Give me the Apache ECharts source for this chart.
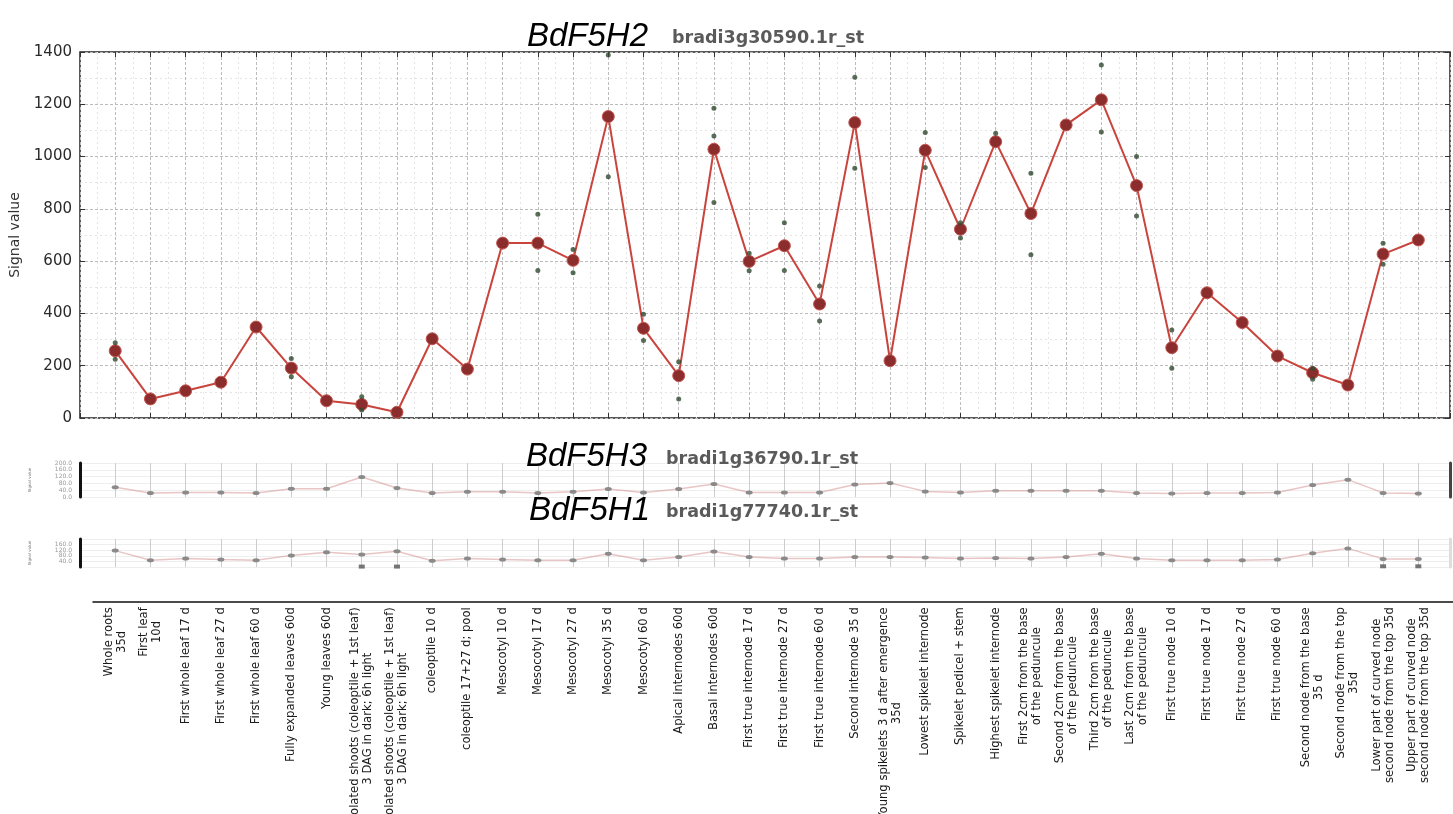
<!DOCTYPE html>
<html>
<head>
<meta charset="utf-8">
<title>BdF5H expression profiles</title>
<script src="https://cdn.jsdelivr.net/npm/echarts@6/dist/echarts.min.js"></script>
<style>
  html, body { margin: 0; padding: 0; background: #ffffff; }
  #chart { width: 1453px; height: 814px; }
</style>
</head>
<body>
<div id="chart"></div>
<script>
// Tissue / developmental stage categories (x axis)
const categories = [
  'Whole roots\n35d',
  'First leaf\n10d',
  'First whole leaf 17 d',
  'First whole leaf 27 d',
  'First whole leaf 60 d',
  'Fully expanded leaves 60d',
  'Young leaves 60d',
  'Etiolated shoots (coleoptile + 1st leaf)\n3 DAG in dark; 6h light',
  'Etiolated shoots (coleoptile + 1st leaf)\n3 DAG in dark; 6h light',
  'coleoptile 10 d',
  'coleoptile 17+27 d; pool',
  'Mesocotyl 10 d',
  'Mesocotyl 17 d',
  'Mesocotyl 27 d',
  'Mesocotyl 35 d',
  'Mesocotyl 60 d',
  'Apical internodes 60d',
  'Basal internodes 60d',
  'First true internode 17 d',
  'First true internode 27 d',
  'First true internode 60 d',
  'Second internode 35 d',
  'Young spikelets 3 d after emergence\n35d',
  'Lowest spikelet internode',
  'Spikelet pedicel + stem',
  'Highest spikelet internode',
  'First 2cm from the base\nof the peduncule',
  'Second 2cm from the base\nof the peduncule',
  'Third 2cm from the base\nof the peduncule',
  'Last 2cm from the base\nof the peduncule',
  'First true node 10 d',
  'First true node 17 d',
  'First true node 27 d',
  'First true node 60 d',
  'Second node from the base\n35 d',
  'Second node from the top\n35d',
  'Lower part of curved node\nsecond node from the top 35d',
  'Upper part of curved node\nsecond node from the top 35d'
];

// BdF5H2 (bradi3g30590.1r_st): mean signal per tissue
const meanF5H2 = [257, 73, 104, 137, 348, 191, 66, 52, 22, 303, 187, 669, 669, 603, 1153, 343, 162, 1028,
  599, 659, 436, 1130, 219, 1024, 722, 1057, 782, 1121, 1217, 889, 269, 479, 365, 237, 173, 126, 627, 681];

// BdF5H2 individual replicates: [tissue index, signal]
const repsF5H2 = [
  [0, 288], [0, 225], [5, 228], [5, 158], [7, 81], [7, 31],
  [12, 779], [12, 564], [13, 645], [13, 556], [14, 1389], [14, 923],
  [15, 397], [15, 296], [16, 215], [16, 73], [17, 1185], [17, 1079], [17, 824],
  [18, 630], [18, 563], [19, 747], [19, 564], [20, 505], [20, 371],
  [21, 1303], [21, 955], [23, 1092], [23, 958], [24, 747], [24, 689],
  [25, 1089], [26, 936], [26, 624], [28, 1350], [28, 1094], [29, 1000], [29, 773],
  [30, 337], [30, 190], [34, 190], [34, 148], [36, 668], [36, 588]
];

// BdF5H3 (bradi1g36790.1r_st): mean signal per tissue
const meanF5H3 = [57, 24, 27, 27, 24, 49, 49, 118, 53, 24, 31, 31, 24, 31, 47, 27, 47, 76,
  27, 27, 27, 73, 82, 33, 27, 37, 37, 37, 37, 24, 20, 24, 24, 27, 71, 102, 24, 20];

// BdF5H1 (bradi1g77740.1r_st): mean signal per tissue
const meanF5H1 = [117, 48, 60, 53, 48, 83, 106, 90, 113, 44, 60, 53, 48, 48, 94, 48, 71, 110,
  71, 60, 60, 71, 71, 67, 60, 64, 60, 71, 94, 60, 48, 48, 48, 53, 99, 133, 58, 58];

// BdF5H1 low replicates: [tissue index, signal]
const repsF5H1 = [[7, 3], [8, 3], [36, 5], [37, 5]];

// Y-axis tick settings
const mainYTicks = { min: 0, max: 1400, step: 200 };
const miniYTicks = { min: 0, max: 200, step: 40 };

const indexed = arr => arr.map((v, i) => [i, v]);
const catIndices = categories.map((_, i) => i);

const chart = echarts.init(document.getElementById('chart'), null, { renderer: 'canvas' });

const FONT = 'DejaVu Sans';
const LABEL_SIZE = 11.6;

// Shared x range for the three stacked panels (one unit per tissue)
const X_MIN = -1, X_MAX = 37.9;
const PLOT_LEFT = 80, PLOT_WIDTH = 1370;
const unitPx = PLOT_WIDTH / (X_MAX - X_MIN);

function miniX(gridIndex) {
  return {
    type: 'value', gridIndex: gridIndex, min: X_MIN, max: X_MAX, interval: 1,
    axisLine: { show: false }, axisTick: { show: false }, axisLabel: { show: false },
    splitLine: { show: true, lineStyle: { color: '#cdcdcd', width: 1 } }
  };
}
function miniYLeft(gridIndex) {
  return {
    type: 'value', gridIndex: gridIndex, position: 'left',
    min: miniYTicks.min, max: miniYTicks.max, interval: miniYTicks.step,
    name: 'Signal value', nameLocation: 'middle', nameGap: 48,
    nameTextStyle: { fontFamily: FONT, fontSize: 4, color: '#777' },
    axisLine: { show: true, onZero: false, lineStyle: { color: '#111', width: 3 } },
    axisTick: { show: false },
    axisLabel: { fontFamily: FONT, fontSize: 6, color: '#999', margin: 8,
                 formatter: v => v.toFixed(1) },
    splitLine: { show: true, lineStyle: { color: '#eeeeee' } }
  };
}
function miniYRight(gridIndex, color) {
  return {
    type: 'value', gridIndex: gridIndex, position: 'right',
    min: miniYTicks.min, max: miniYTicks.max, interval: miniYTicks.step,
    axisLine: { show: true, onZero: false, lineStyle: { color: color, width: 3 } },
    axisTick: { show: false }, axisLabel: { show: false }, splitLine: { show: false }
  };
}

const titleFont = { fontFamily: 'Liberation Sans', fontStyle: 'italic', fontWeight: 'normal', fontSize: 33, color: '#000' };
const probeFont = { fontFamily: FONT, fontWeight: 'bold', fontSize: 17.5, color: '#5a5a5a' };

const option = {
  backgroundColor: '#ffffff',
  animation: false,
  title: [
    { text: 'BdF5H2', left: 522, top: 15, textStyle: titleFont },
    { text: 'bradi3g30590.1r_st', left: 667, top: 24, textStyle: probeFont },
    { text: 'BdF5H3', left: 521, top: 435, textStyle: titleFont },
    { text: 'bradi1g36790.1r_st', left: 661, top: 445, textStyle: probeFont },
    { text: 'BdF5H1', left: 524, top: 489, textStyle: titleFont },
    { text: 'bradi1g77740.1r_st', left: 661, top: 498, textStyle: probeFont }
  ],
  grid: [
    { left: PLOT_LEFT, top: 52, width: PLOT_WIDTH, height: 366, show: true, borderColor: '#222', borderWidth: 1.5, backgroundColor: 'transparent' },
    { left: PLOT_LEFT, top: 463, width: PLOT_WIDTH, height: 34 },
    { left: PLOT_LEFT, top: 539, width: PLOT_WIDTH, height: 28 },
    { left: 93, top: 601, width: 1360, height: 1 }
  ],
  xAxis: [
    {
      type: 'value', gridIndex: 0, position: 'bottom', min: X_MIN, max: X_MAX, interval: 1,
      axisLine: { show: false, onZero: false },
      axisTick: { show: true, inside: true, length: 5, lineStyle: { color: '#333' } },
      axisLabel: { show: false },
      splitLine: { show: true, lineStyle: { color: '#bcbcbc', type: [3, 2], width: 1 } },
      minorTick: { show: false, splitNumber: 2 },
      minorSplitLine: { show: true, lineStyle: { color: '#e4e4e4', type: [2, 3], width: 1 } }
    },
    {
      type: 'value', gridIndex: 0, position: 'top', min: X_MIN, max: X_MAX, interval: 1,
      axisLine: { show: false, onZero: false },
      axisTick: { show: true, inside: true, length: 5, lineStyle: { color: '#333' } },
      axisLabel: { show: false }, splitLine: { show: false }
    },
    miniX(1),
    miniX(2),
    {
      // Tissue names, on the same scale as the panels above
      type: 'value', gridIndex: 3, position: 'bottom',
      min: X_MIN + (93 - PLOT_LEFT) / unitPx, max: X_MIN + (1453 - PLOT_LEFT) / unitPx,
      axisLine: { show: true, onZero: false, lineStyle: { color: '#111', width: 1.5 } },
      axisTick: { show: false },
      splitLine: { show: false },
      axisLabel: {
        show: true, rotate: 90, margin: 6, hideOverlap: false,
        customValues: catIndices,
        fontFamily: FONT, fontSize: LABEL_SIZE, color: '#1a1a1a',
        formatter: v => {
          const name = categories[Math.round(v)];
          if (name === undefined) return '';
          return name.split('\n').map(l => '{c|' + l + '}').join('\n');
        },
        rich: { c: { align: 'center', fontFamily: FONT, fontSize: LABEL_SIZE, lineHeight: 13, color: '#1a1a1a' } }
      }
    }
  ],
  yAxis: [
    {
      type: 'value', gridIndex: 0, position: 'left',
      min: mainYTicks.min, max: mainYTicks.max, interval: mainYTicks.step,
      name: 'Signal value', nameLocation: 'middle', nameGap: 58,
      nameTextStyle: { fontFamily: FONT, fontSize: 14, color: '#333' },
      axisLine: { show: false, onZero: false },
      axisTick: { show: true, inside: true, length: 5, lineStyle: { color: '#333' } },
      axisLabel: { fontFamily: FONT, fontSize: 15, color: '#2a2a2a', margin: 8, formatter: v => String(v) },
      splitLine: { show: true, lineStyle: { color: '#bcbcbc', type: [3, 2], width: 1 } },
      minorTick: { show: false, splitNumber: 2 },
      minorSplitLine: { show: true, lineStyle: { color: '#e4e4e4', type: [2, 3], width: 1 } }
    },
    {
      type: 'value', gridIndex: 0, position: 'right',
      min: mainYTicks.min, max: mainYTicks.max, interval: mainYTicks.step,
      axisLine: { show: false, onZero: false },
      axisTick: { show: true, inside: true, length: 5, lineStyle: { color: '#333' } },
      axisLabel: { show: false }, splitLine: { show: false }
    },
    miniYLeft(1),
    miniYRight(1, '#444'),
    miniYLeft(2),
    miniYRight(2, '#dddddd'),
    { type: 'value', gridIndex: 3, show: false, min: 0, max: 1 }
  ],
  series: [
    {
      name: 'BdF5H2 mean', type: 'line', xAxisIndex: 0, yAxisIndex: 0,
      data: indexed(meanF5H2),
      symbol: 'circle', symbolSize: 12,
      itemStyle: { color: '#8c2d2d', borderColor: '#c4554f', borderWidth: 1 },
      lineStyle: { color: '#c8443d', width: 2 },
      z: 3
    },
    {
      name: 'BdF5H2 replicates', type: 'scatter', xAxisIndex: 0, yAxisIndex: 0,
      data: repsF5H2, symbol: 'circle', symbolSize: 5,
      itemStyle: { color: '#2f4a2f' }, z: 4
    },
    {
      name: 'BdF5H3 mean', type: 'line', xAxisIndex: 2, yAxisIndex: 2,
      data: indexed(meanF5H3),
      symbol: 'circle', symbolSize: [7, 4],
      itemStyle: { color: '#8a8a8a' },
      lineStyle: { color: 'rgba(200, 110, 110, 0.4)', width: 1.5 },
      z: 3
    },
    {
      name: 'BdF5H1 mean', type: 'line', xAxisIndex: 3, yAxisIndex: 4,
      data: indexed(meanF5H1),
      symbol: 'circle', symbolSize: [7, 4],
      itemStyle: { color: '#8a8a8a' },
      lineStyle: { color: 'rgba(200, 110, 110, 0.4)', width: 1.5 },
      z: 3
    },
    {
      name: 'BdF5H1 replicates', type: 'scatter', xAxisIndex: 3, yAxisIndex: 4,
      data: repsF5H1, symbol: 'rect', symbolSize: [6, 4],
      itemStyle: { color: '#555555' }, z: 4
    }
  ]
};

chart.setOption(option);
</script>
</body>
</html>
